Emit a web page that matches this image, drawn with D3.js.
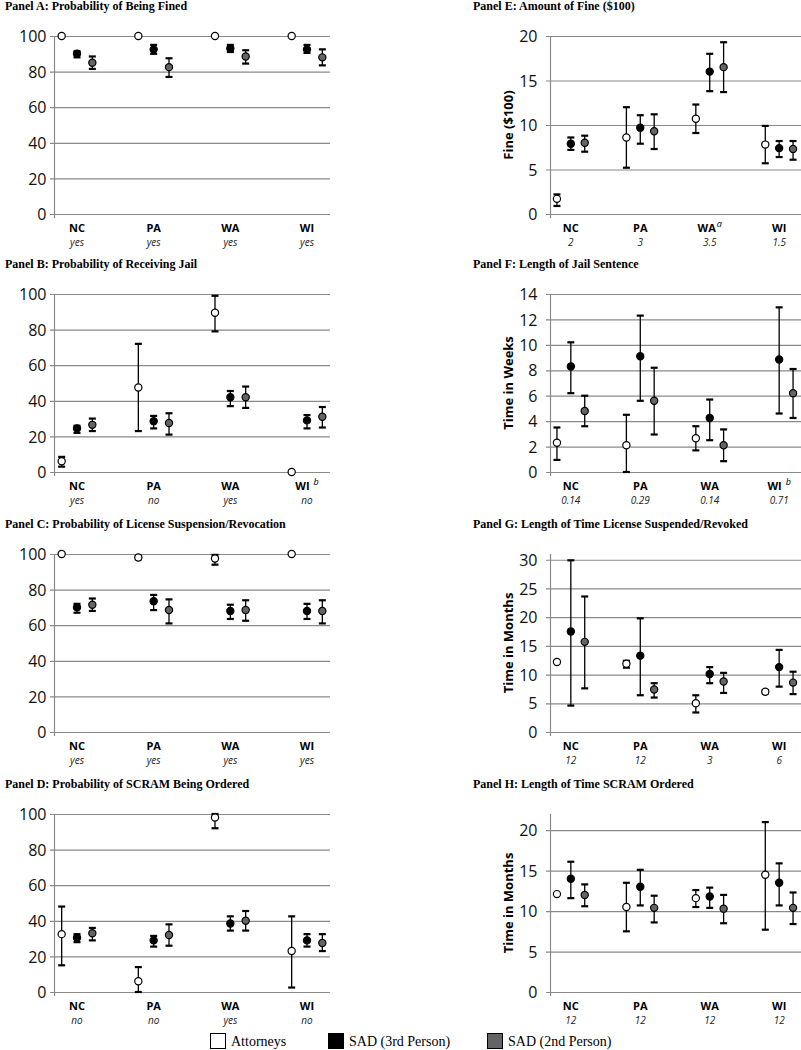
<!doctype html>
<html>
<head>
<meta charset="utf-8">
<script src="https://cdn.jsdelivr.net/npm/d3@7"></script>
<style>
  body { margin: 0; background: #fff; }
  svg { display: block; }
</style>
</head>
<body>
<script>
// States on the x axis and the note printed under each state.
const states = ["NC", "PA", "WA", "WI"];
const seriesNames = ["Attorneys", "SAD (3rd Person)", "SAD (2nd Person)"];

// Each entry: [mean, low, high]; null = no value / no bar.
const aAtt  = [[100, null, null], [100, null, null], [100, null, null], [100, null, null]];
const aSad3 = [[90, 88, 91.5], [92.5, 90, 95], [93, 91, 95], [92.5, 90.5, 95]];
const aSad2 = [[85, 81.5, 88.5], [82.5, 77, 87.5], [88.5, 84.5, 92], [88, 83.5, 92.5]];
const aNotes = ["yes", "yes", "yes", "yes"];

const bAtt  = [[6, 3, 8.5], [47.5, 23, 72], [89.5, 79, 99], [0, null, null]];
const bSad3 = [[24.5, 22, 26], [28.5, 24.5, 31.5], [42, 37, 45.5], [29, 24.5, 32]];
const bSad2 = [[26.5, 23, 30], [27.5, 21, 33], [42, 36, 48], [31, 25, 36.5]];
const bNotes = ["yes", "no", "yes", "no"];

const cAtt  = [[100, null, null], [98, 97, 99], [97.5, 94, 99.5], [100, null, null]];
const cSad3 = [[70, 67, 72], [73.5, 68.5, 77], [68, 63.5, 71.5], [68, 63.5, 72]];
const cSad2 = [[71.5, 68, 75], [68.5, 61, 74.5], [68.5, 62.5, 74], [68, 61, 74]];
const cNotes = ["yes", "yes", "yes", "yes"];

const dAtt  = [[32.5, 15, 48], [6, 0, 14], [98, 92, 100], [23, 2.5, 42.5]];
const dSad3 = [[30.5, 28, 32.5], [29, 25.5, 31.5], [38.5, 34.5, 42.5], [29, 25.5, 32.5]];
const dSad2 = [[33, 29, 36], [32, 26, 38], [40, 34.5, 45.5], [27.5, 23, 32.5]];
const dNotes = ["no", "no", "yes", "no"];

const eAtt  = [[1.7, 0.9, 2.2], [8.6, 5.2, 12], [10.7, 9.1, 12.3], [7.8, 5.7, 9.9]];
const eSad3 = [[7.9, 7.2, 8.6], [9.7, 7.9, 11.1], [16, 13.8, 18], [7.4, 6.4, 8.2]];
const eSad2 = [[8, 7, 8.8], [9.3, 7.3, 11.2], [16.5, 13.7, 19.3], [7.3, 6.1, 8.2]];
const eNotes = ["2", "3", "3.5", "1.5"];

const fAtt  = [[2.3, 0.95, 3.5], [2.1, 0, 4.5], [2.65, 1.7, 3.6], [null, null, null]];
const fSad3 = [[8.3, 6.2, 10.2], [9.1, 5.6, 12.3], [4.25, 2.5, 5.7], [8.85, 4.6, 12.95]];
const fSad2 = [[4.8, 3.6, 6], [5.6, 2.95, 8.2], [2.1, 0.85, 3.35], [6.2, 4.25, 8.1]];
const fNotes = ["0.14", "0.29", "0.14", "0.71"];

const gAtt  = [[12.2, null, null], [11.9, 11.2, 12.4], [5, 3.4, 6.4], [7, 6.7, 7.3]];
const gSad3 = [[17.5, 4.6, 29.9], [13.3, 6.4, 19.8], [10.1, 8.5, 11.3], [11.3, 7.9, 14.3]];
const gSad2 = [[15.7, 7.6, 23.6], [7.4, 6, 8.5], [8.8, 6.8, 10.3], [8.6, 6.6, 10.5]];
const gNotes = ["12", "12", "3", "6"];

const hAtt  = [[12.1, null, null], [10.5, 7.5, 13.5], [11.6, 10.5, 12.6], [14.5, 7.7, 21]];
const hSad3 = [[14, 11.6, 16.1], [13, 10.7, 15.1], [11.8, 10.4, 12.9], [13.5, 10.7, 15.9]];
const hSad2 = [[12, 10.6, 13.3], [10.4, 8.6, 11.9], [10.3, 8.5, 12], [10.4, 8.4, 12.3]];
const hNotes = ["12", "12", "12", "12"];

// Panel table built from the arrays above.
const panels = [
  {title: "Panel A: Probability of Being Fined", col: 0, row: 0, max: 100, step: 20, data: [aAtt, aSad3, aSad2], notes: aNotes},
  {title: "Panel B: Probability of Receiving Jail", col: 0, row: 1, max: 100, step: 20, data: [bAtt, bSad3, bSad2], notes: bNotes, sup: {WI: "b"}},
  {title: "Panel C: Probability of License Suspension/Revocation", col: 0, row: 2, max: 100, step: 20, data: [cAtt, cSad3, cSad2], notes: cNotes},
  {title: "Panel D: Probability of SCRAM Being Ordered", col: 0, row: 3, max: 100, step: 20, data: [dAtt, dSad3, dSad2], notes: dNotes},
  {title: "Panel E: Amount of Fine ($100)", col: 1, row: 0, max: 20, step: 5, label: "Fine ($100)", data: [eAtt, eSad3, eSad2], notes: eNotes, sup: {WA: "a"}},
  {title: "Panel F: Length of Jail Sentence", col: 1, row: 1, max: 14, step: 2, label: "Time in Weeks", data: [fAtt, fSad3, fSad2], notes: fNotes, sup: {WI: "b"}},
  {title: "Panel G: Length of Time License Suspended/Revoked", col: 1, row: 2, max: 31, top: 30, step: 5, label: "Time in Months", data: [gAtt, gSad3, gSad2], notes: gNotes},
  {title: "Panel H: Length of Time SCRAM Ordered", col: 1, row: 3, max: 22, top: 20, step: 5, label: "Time in Months", data: [hAtt, hSad3, hSad2], notes: hNotes}
];

const width = 801;
const height = 1050;
const rowTops = [36, 294, 554, 814];
const plotH = 178;
const cols = [
  {x0: 54, x1: 330, titleX: 5, tickEnd: 46},
  {x0: 550, x1: 800, titleX: 473, tickEnd: 537, labelX: 513}
];
const offsets = [-0.2, 0, 0.2];
const fills = ["#fff", "#000", "#646464"];

const svg = d3.select("body").append("svg")
    .attr("width", width)
    .attr("height", height)
    .attr("viewBox", [0, 0, width, height]);

for (const p of panels) {
  const c = cols[p.col];
  const top = rowTops[p.row];
  const bottom = top + plotH;
  const x = d3.scaleLinear([0.7, 4.3], [c.x0, c.x1]);
  const y = d3.scaleLinear([0, p.max], [bottom, top]);
  const ticks = d3.range(0, (p.top ?? p.max) + 0.001, p.step);

  const g = svg.append("g");

  // Title
  g.append("text")
      .attr("x", c.titleX)
      .attr("y", top - 26)
      .attr("font-family", "Liberation Serif, Times New Roman, serif")
      .attr("font-weight", "bold")
      .attr("font-size", 12)
      .text(p.title);

  // Gridlines with short outward ticks
  g.append("g")
    .selectAll("line")
    .data(ticks)
    .join("line")
      .attr("x1", c.x0 - 4)
      .attr("x2", c.x1 + (p.col === 1 ? 2 : 0))
      .attr("y1", d => y(d) + 0.5)
      .attr("y2", d => y(d) + 0.5)
      .attr("stroke", "#8a8a8a")
      .attr("stroke-width", 1.2);

  // Vertical axis line
  g.append("line")
      .attr("x1", c.x0 + 0.5).attr("x2", c.x0 + 0.5)
      .attr("y1", y(p.max)).attr("y2", bottom + 4)
      .attr("stroke", "#8a8a8a")
      .attr("stroke-width", 1.2);

  // Tick labels via d3 axis
  g.append("g")
      .attr("transform", `translate(${c.tickEnd + 0.5},0.5)`)
      .call(d3.axisLeft(y).tickValues(ticks).tickSize(0).tickPadding(0))
      .call(a => a.select(".domain").remove())
      .call(a => a.selectAll("text")
        .attr("font-family", "Open Sans, sans-serif")
        .attr("font-size", 16)
        .attr("fill", "#111"));

  // Y axis title (right column)
  if (p.label) {
    g.append("text")
        .attr("transform", `translate(${c.labelX},${(top + bottom) / 2}) rotate(-90)`)
        .attr("text-anchor", "middle")
        .attr("font-family", "Open Sans, sans-serif")
        .attr("font-weight", "bold")
        .attr("font-size", 13)
        .text(p.label);
  }

  // Category labels + notes
  const cat = g.append("g")
    .selectAll("g")
    .data(states)
    .join("g")
      .attr("transform", (d, i) => `translate(${x(i + 1)},0)`);

  const lab = cat.append("text")
      .attr("y", bottom + 18)
      .attr("text-anchor", "middle")
      .attr("font-family", "Open Sans, sans-serif")
      .attr("font-weight", "bold")
      .attr("font-size", 11)
      .text(d => d);

  if (p.sup) {
    lab.filter(d => p.sup[d])
        .append("tspan")
        .attr("dx", d => p.sup[d] === "b" ? 4 : 1)
        .attr("dy", -5)
        .attr("font-weight", "normal")
        .attr("font-style", "italic")
        .attr("font-size", 9)
        .text(d => p.sup[d]);
  }

  cat.append("text")
      .attr("y", bottom + 32)
      .attr("text-anchor", "middle")
      .attr("font-family", "Open Sans, sans-serif")
      .attr("font-style", "italic")
      .attr("font-size", 10)
      .attr("fill", "#222")
      .text((d, i) => p.notes[i]);

  // Series: error bars and markers
  p.data.forEach((series, s) => {
    const pts = series
      .map((v, i) => ({i, m: v[0], lo: v[1], hi: v[2]}))
      .filter(d => d.m != null);
    const px = d => x(d.i + 1 + offsets[s]);
    const bars = pts.filter(d => d.lo != null);

    const eg = g.append("g").attr("stroke", "#000");
    eg.selectAll("line.v")
      .data(bars)
      .join("line")
        .attr("class", "v")
        .attr("x1", px).attr("x2", px)
        .attr("y1", d => y(d.lo)).attr("y2", d => y(d.hi))
        .attr("stroke-width", 1.3);
    for (const k of ["lo", "hi"]) {
      eg.selectAll(`line.${k}`)
        .data(bars)
        .join("line")
          .attr("class", k)
          .attr("x1", d => px(d) - 3.5).attr("x2", d => px(d) + 3.5)
          .attr("y1", d => y(d[k])).attr("y2", d => y(d[k]))
          .attr("stroke-width", 2.2);
    }

    g.append("g")
      .selectAll("circle")
      .data(pts)
      .join("circle")
        .attr("cx", px)
        .attr("cy", d => y(d.m))
        .attr("r", 3.6)
        .attr("fill", fills[s])
        .attr("stroke", "#000")
        .attr("stroke-width", 1.2);
  });
}

// Legend
const legendX = [210, 328, 487];
const lg = svg.append("g")
  .selectAll("g")
  .data(seriesNames)
  .join("g")
    .attr("transform", (d, i) => `translate(${legendX[i]},1033)`);
lg.append("rect")
    .attr("x", 0.5).attr("y", 0.5)
    .attr("width", 15).attr("height", 15)
    .attr("fill", (d, i) => fills[i])
    .attr("stroke", "#000")
    .attr("stroke-width", 1);
lg.append("text")
    .attr("x", 21)
    .attr("y", 13)
    .attr("font-family", "Liberation Serif, Times New Roman, serif")
    .attr("font-size", 14)
    .text(d => d);
</script>
</body>
</html>
